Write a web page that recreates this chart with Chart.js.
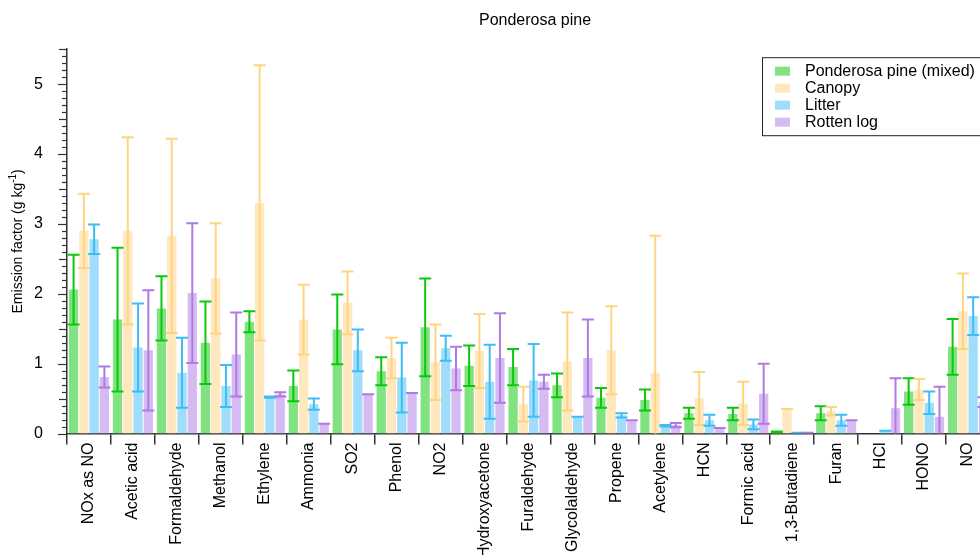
<!DOCTYPE html>
<html>
<head>
<meta charset="utf-8">
<title>Ponderosa pine</title>
<script src="https://cdn.jsdelivr.net/npm/chart.js@4.4.1/dist/chart.umd.min.js"></script>
<style>
    html, body { margin: 0; padding: 0; background: #fff; overflow: hidden; }
    #wrap { width: 980px; height: 555px; overflow: hidden; }
</style>
</head>
<body>
<div id="wrap"><canvas id="efChart" width="1070" height="555"></canvas></div>
<script>
const categories = ["NOx as NO", "Acetic acid", "Formaldehyde", "Methanol", "Ethylene", "Ammonia", "SO2", "Phenol", "NO2",
    "Hydroxyacetone", "Furaldehyde", "Glycolaldehyde", "Propene", "Acetylene", "HCN", "Formic acid", "1,3-Butadiene",
    "Furan", "HCl", "HONO", "NO"];

const mixed     = [2.06, 1.63, 1.79, 1.30, 1.60, 0.68, 1.49, 0.89, 1.52, 0.97, 0.95, 0.69, 0.51, 0.48, 0.29, 0.28, 0.02, 0.29, null, 0.60, 1.24];
const mixedErr  = [0.50, 1.03, 0.46, 0.59, 0.15, 0.22, 0.50, 0.20, 0.70, 0.29, 0.26, 0.17, 0.14, 0.15, 0.08, 0.09, 0.01, 0.10, null, 0.19, 0.40];
const canopy    = [2.90, 2.90, 2.83, 2.22, 3.30, 1.63, 1.87, 1.08, 1.02, 1.18, 0.42, 1.03, 1.19, 0.87, 0.50, 0.43, 0.35, 0.32, null, 0.63, 1.75];
const canopyErr = [0.53, 1.34, 1.39, 0.79, 1.97, 0.50, 0.45, 0.29, 0.54, 0.53, 0.25, 0.70, 0.63, 1.96, 0.38, 0.31, 0.00, 0.06, null, 0.15, 0.54];
const litter    = [2.78, 1.23, 0.87, 0.68, 0.52, 0.42, 1.19, 0.80, 1.22, 0.74, 0.76, 0.24, 0.26, 0.11, 0.19, 0.13, 0.01, 0.19, 0.04, 0.44, 1.68];
const litterErr = [0.21, 0.63, 0.50, 0.30, 0.01, 0.08, 0.30, 0.50, 0.18, 0.53, 0.52, 0.00, 0.03, 0.01, 0.08, 0.07, 0.00, 0.08, 0.00, 0.16, 0.27];
const rotten    = [0.81, 1.19, 2.01, 1.13, 0.56, 0.14, 0.56, 0.58, 0.93, 1.08, 0.74, 1.08, 0.19, 0.12, 0.08, 0.57, 0.01, 0.19, 0.36, 0.24, 0.45];
const rottenErr = [0.15, 0.86, 1.00, 0.60, 0.03, 0.00, 0.00, 0.00, 0.31, 0.64, 0.10, 0.55, 0.00, 0.03, 0.00, 0.43, 0.00, 0.00, 0.43, 0.43, 0.07];

const yMin = 0;
const yMax = 5.5;

const FONT = "'Liberation Sans', Arial, Helvetica, sans-serif";
const AXIS = "#333";

// error bars with caps, drawn over the bars
const errorBars = {
    id: "errorBars",
    afterDatasetsDraw(chart) {
        const { ctx, chartArea, scales } = chart;
        const y = scales.y;
        ctx.save();
        ctx.beginPath();
        ctx.rect(chartArea.left, chartArea.top - 2, chartArea.width, chartArea.height + 2);
        ctx.clip();
        chart.data.datasets.forEach((ds, i) => {
            const meta = chart.getDatasetMeta(i);
            ctx.strokeStyle = ds.errorColor;
            ctx.lineWidth = 2;
            meta.data.forEach((bar, j) => {
                const v = ds.data[j];
                const e = ds.errors[j];
                if (v === null || e === null) return;
                const top = y.getPixelForValue(v + e);
                const bot = y.getPixelForValue(v - e);
                const cap = 6;
                ctx.beginPath();
                ctx.moveTo(bar.x, top);
                ctx.lineTo(bar.x, bot);
                ctx.moveTo(bar.x - cap, top);
                ctx.lineTo(bar.x + cap, top);
                ctx.moveTo(bar.x - cap, bot);
                ctx.lineTo(bar.x + cap, bot);
                ctx.stroke();
            });
        });
        ctx.restore();
    },
};

// y ticks (minor every 0.1), y title with superscript, legend box
const decorations = {
    id: "decorations",
    afterDraw(chart) {
        const { ctx, chartArea, scales } = chart;
        const y = scales.y;
        ctx.save();
        ctx.strokeStyle = AXIS;
        ctx.lineWidth = 1.2;
        y.ticks.forEach((t) => {
            const v = Math.round(t.value * 10) / 10;
            const py = Math.round(y.getPixelForValue(v)) + 0.5;
            let len = 5;
            if (Math.abs(v - Math.round(v)) < 1e-6) len = 9;
            else if (Math.abs(v * 2 - Math.round(v * 2)) < 1e-6) len = 8;
            ctx.beginPath();
            ctx.moveTo(chartArea.left - len, py);
            ctx.lineTo(chartArea.left, py);
            ctx.stroke();
        });

        // y axis title
        const main = "Emission factor (g kg";
        const sup = "-1";
        const tail = ")";
        ctx.fillStyle = "#000";
        ctx.font = "14px " + FONT;
        const w1 = ctx.measureText(main).width;
        const w3 = ctx.measureText(tail).width;
        ctx.font = "10px " + FONT;
        const w2 = ctx.measureText(sup).width;
        const total = w1 + w2 + w3;
        ctx.translate(18, (chartArea.top + chartArea.bottom) / 2);
        ctx.rotate(-Math.PI / 2);
        ctx.textBaseline = "middle";
        ctx.textAlign = "left";
        let x = -total / 2;
        ctx.font = "14px " + FONT;
        ctx.fillText(main, x, 0);
        x += w1;
        ctx.font = "10px " + FONT;
        ctx.fillText(sup, x, -5);
        x += w2;
        ctx.font = "14px " + FONT;
        ctx.fillText(tail, x, 0);
        ctx.restore();

        // legend
        ctx.save();
        const lx = chartArea.right - 228;
        const ly = chartArea.top + 8;
        const rowH = 17;
        ctx.fillStyle = "#fff";
        ctx.fillRect(lx, ly, 240, 78);
        ctx.strokeStyle = "#222";
        ctx.lineWidth = 1;
        ctx.strokeRect(lx + 0.5, ly + 0.5, 240, 78);
        ctx.font = "16px " + FONT;
        ctx.textBaseline = "middle";
        ctx.textAlign = "left";
        chart.data.datasets.forEach((ds, i) => {
            const cy = ly + 14 + i * rowH;
            ctx.fillStyle = ds.backgroundColor;
            ctx.fillRect(lx + 13, cy - 4.5, 15, 9);
            ctx.fillStyle = "#000";
            ctx.fillText(ds.label, lx + 43, cy);
        });
        ctx.restore();
    },
};

const ctx = document.getElementById("efChart").getContext("2d");
new Chart(ctx, {
    type: "bar",
    data: {
        labels: categories,
        datasets: [
            { label: "Ponderosa pine (mixed)", data: mixed, errors: mixedErr, backgroundColor: "rgb(128,226,128)", errorColor: "rgb(10,200,10)" },
            { label: "Canopy", data: canopy, errors: canopyErr, backgroundColor: "rgb(255,231,190)", errorColor: "rgb(255,212,128)" },
            { label: "Litter", data: litter, errors: litterErr, backgroundColor: "rgb(160,221,250)", errorColor: "rgb(60,190,245)" },
            { label: "Rotten log", data: rotten, errors: rottenErr, backgroundColor: "rgb(213,187,242)", errorColor: "rgb(176,122,226)" },
        ],
    },
    options: {
        responsive: false,
        animation: false,
        devicePixelRatio: 1,
        categoryPercentage: 0.935,
        barPercentage: 0.9,
        layout: { padding: 0 },
        plugins: {
            legend: { display: false },
            tooltip: { enabled: false },
            title: {
                display: true,
                text: "Ponderosa pine",
                color: "#000",
                font: { family: FONT, size: 16, weight: "normal" },
                padding: { top: 11, bottom: 19 },
            },
        },
        scales: {
            x: {
                grid: { drawOnChartArea: false, drawTicks: true, tickLength: 11, color: AXIS, lineWidth: 1.5 },
                border: { color: AXIS, width: 1.5 },
                ticks: {
                    color: "#000",
                    font: { family: FONT, size: 16 },
                    minRotation: 90,
                    maxRotation: 90,
                    autoSkip: false,
                    padding: -2,
                },
                afterFit(scale) { scale.height = 121.5; },
            },
            y: {
                min: yMin,
                max: yMax,
                grid: { display: false },
                border: { color: AXIS, width: 1.5 },
                ticks: {
                    stepSize: 0.1,
                    autoSkip: false,
                    color: "#000",
                    font: { family: FONT, size: 16 },
                    padding: 16,
                    callback: (v) => {
                        const r = Math.round(v * 10) / 10;
                        return Math.abs(r - Math.round(r)) < 1e-6 ? String(Math.round(r)) : "";
                    },
                },
                afterFit(scale) { scale.width = 67; },
            },
            yRight: {
                type: "linear",
                position: "right",
                display: true,
                grid: { display: false },
                border: { display: false },
                ticks: { display: false },
                afterFit(scale) { scale.width = 80; },
            },
        },
    },
    plugins: [errorBars, decorations],
});
</script>
</body>
</html>
